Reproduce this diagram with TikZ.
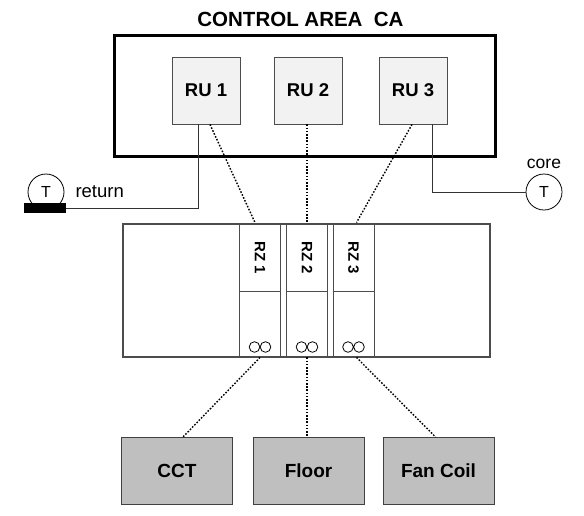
\documentclass[tikz,border=0pt]{standalone}
\usepackage{fontspec}
\setmainfont{Liberation Sans}
\usetikzlibrary{positioning}
\begin{document}
\begin{tikzpicture}[x=1pt,y=-1pt,unit/.style={draw=black!70,fill=black!5,line width=0.9pt,minimum width=68pt,minimum height=67pt,font=\bfseries\fontsize{18.5}{18.5}\selectfont},load/.style={draw=black!75,fill=black!25,line width=1pt,minimum width=111pt,minimum height=67pt,font=\bfseries\fontsize{19}{19}\selectfont},zone/.style={draw=black!70,line width=0.9pt,minimum width=41pt,minimum height=134pt},sensor/.style={draw,circle,line width=0.8pt,minimum size=36pt,inner sep=0pt,font=\fontsize{16}{16}\selectfont},link/.style={dash pattern=on 1.6pt off 1.6pt,line width=1.4pt},wire/.style={draw=black!80,line width=0.8pt}]
\useasboundingbox (0,0) rectangle (584,515);
\node[font=\bfseries\fontsize{20.5}{20.5}\selectfont] (title) at (300.5,19) {CONTROL AREA\ \ CA};
\node[draw,line width=3pt,minimum width=381pt,minimum height=121pt] (ca) at (304.5,95.5) {};
\node[unit] (ru1) at (206,90.5) {RU 1};
\node[unit] (ru2) at (308,90.5) {RU 2};
\node[unit] (ru3) at (413,90.5) {RU 3};
\node[draw=black!70,line width=1.4pt,minimum width=367pt,minimum height=133pt] (rack) at (306.5,290.5) {};
\foreach \i/\x in {1/260,2/307,3/353.5} {
  \node[zone] (rz\i) at (\x,290) {};
  \draw[draw=black!70,line width=0.9pt] (rz\i.west |- 0,291) -- (rz\i.east |- 0,291);
  \node[rotate=-90,font=\bfseries\fontsize{15}{15}\selectfont] at (\x,257.5) {RZ \i};
  \draw[line width=0.8pt] (\x-5.5,347) circle (5.3) (\x+5.5,347) circle (5.3);
}
\node[load] (cct) at (177,471) {CCT};
\node[load] (floor) at (308.5,471) {Floor};
\node[load] (fan) at (438.5,471) {Fan Coil};
\node[sensor] (ret) at (46,192) {T};
\node[fill=black,minimum width=42pt,minimum height=10pt,inner sep=0pt] (bar) at (45,208) {};
\node[anchor=base west,font=\fontsize{18.5}{18.5}\selectfont] at (72,197) {return};
\node[sensor] (core) at (544,192) {T};
\node[font=\fontsize{17.5}{17.5}\selectfont,above=1pt of core] {core};
\draw[wire] ([xshift=-8pt]ru1.south) |- (bar.east);
\draw[wire] ([xshift=19pt]ru3.south) |- (core.west);
\draw[link] ([xshift=4pt]ru1.south) -- ([xshift=-5pt]rz1.north);
\draw[link] ([xshift=-1pt]ru2.south) -- (rz2.north);
\draw[link] ([xshift=-1pt]ru3.south) -- ([xshift=3pt]rz3.north);
\draw[link] (rz1.south) -- ([xshift=6pt]cct.north);
\draw[link] (rz2.south) -- ([xshift=-1.5pt]floor.north);
\draw[link] ([xshift=3pt]rz3.south) -- ([xshift=-3pt]fan.north);
\end{tikzpicture}
\end{document}
